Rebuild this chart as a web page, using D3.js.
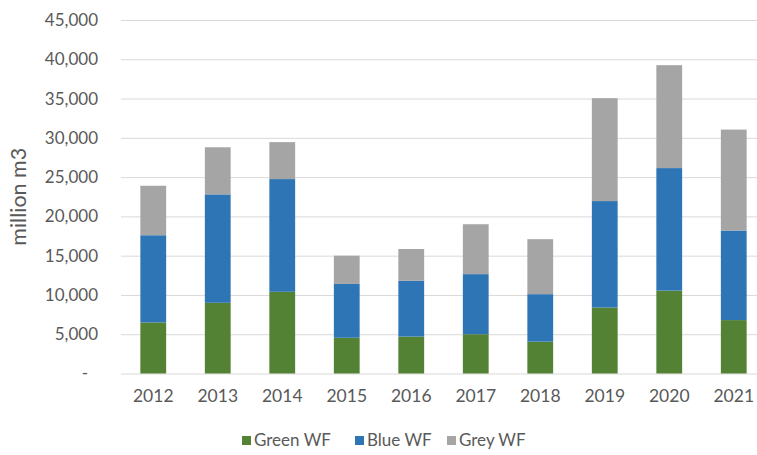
<!DOCTYPE html>
<html>
<head>
  <meta charset="utf-8">
  <style>
    body { margin: 0; background: #fff; }
    svg text { font-family: Lato, "Open Sans", sans-serif; fill: #595959; }
    svg .grid line { stroke: #d9d9d9; stroke-width: 1px; }
    svg .domain { display: none; }
  </style>
</head>
<body>
<script src="https://d3js.org/d3.v7.min.js"></script>
<script>
  // data (million m3)
  var years = ["2012", "2013", "2014", "2015", "2016", "2017", "2018", "2019", "2020", "2021"];
  var greenWF = [6500, 9000, 10400, 4550, 4700, 5000, 4050, 8400, 10550, 6800];
  var blueWF  = [11100, 13800, 14350, 6850, 7100, 7650, 6050, 13550, 15600, 11400];
  var greyWF  = [6300, 6000, 4700, 3600, 4050, 6350, 7000, 13100, 13100, 12850];
  var seriesNames = ["Green WF", "Blue WF", "Grey WF"];
  var yTicks = [0, 5000, 10000, 15000, 20000, 25000, 30000, 35000, 40000, 45000];

  var colors = ["#548235", "#2e75b6", "#a5a5a5"];

  var W = 757, H = 455;
  var plotLeft = 121, plotRight = 766, plotTop = 20, plotBottom = 373.5;

  var rows = years.map(function (y, i) {
    return { year: y, "Green WF": greenWF[i], "Blue WF": blueWF[i], "Grey WF": greyWF[i] };
  });

  var svg = d3.select("body").append("svg")
      .attr("width", W)
      .attr("height", H);

  var x = d3.scaleBand().domain(years).range([plotLeft, plotRight]).paddingInner(0.6).paddingOuter(0.3);
  var y = d3.scaleLinear().domain([0, 45000]).range([plotBottom, plotTop]);

  // horizontal grid + y labels
  var yAxis = d3.axisLeft(y)
      .tickValues(yTicks)
      .tickSize(-(plotRight - plotLeft))
      .tickPadding(23)
      .tickFormat(function (d) { return d === 0 ? "-" : d3.format(",")(d); });

  var gy = svg.append("g")
      .attr("class", "grid")
      .attr("transform", "translate(" + plotLeft + ",0)")
      .call(yAxis);
  gy.selectAll(".tick text")
      .style("font-size", "17px")
      .attr("dx", function (d) { return d === 0 ? -10 : 0; });

  // stacked bars
  var stack = d3.stack().keys(seriesNames)(rows);

  svg.append("g").selectAll("g")
    .data(stack)
    .join("g")
      .attr("fill", function (d, i) { return colors[i]; })
    .selectAll("rect")
    .data(function (d) { return d; })
    .join("rect")
      .attr("x", function (d) { return x(d.data.year); })
      .attr("width", x.bandwidth())
      .attr("y", function (d) { return y(d[1]); })
      .attr("height", function (d) { return y(d[0]) - y(d[1]); });

  // x labels
  var xAxis = d3.axisBottom(x).tickSize(0).tickPadding(16);
  svg.append("g")
      .attr("transform", "translate(0," + plotBottom + ")")
      .call(xAxis)
    .selectAll("text")
      .style("font-size", "17.5px");

  // y title
  svg.append("text")
      .attr("transform", "translate(26," + ((plotTop + plotBottom) / 2) + ") rotate(-90)")
      .attr("text-anchor", "middle")
      .style("font-size", "21.5px")
      .text("million m3");

  // legend
  var legendX = [242, 355, 447];
  var legend = svg.append("g").selectAll("g")
    .data(seriesNames)
    .join("g")
      .attr("transform", function (d, i) { return "translate(" + legendX[i] + ",436)"; });
  legend.append("rect")
      .attr("width", 9)
      .attr("height", 9)
      .attr("fill", function (d, i) { return colors[i]; });
  legend.append("text")
      .attr("x", 12)
      .attr("y", 10)
      .style("font-size", "17px")
      .text(function (d) { return d; });
</script>
</body>
</html>
